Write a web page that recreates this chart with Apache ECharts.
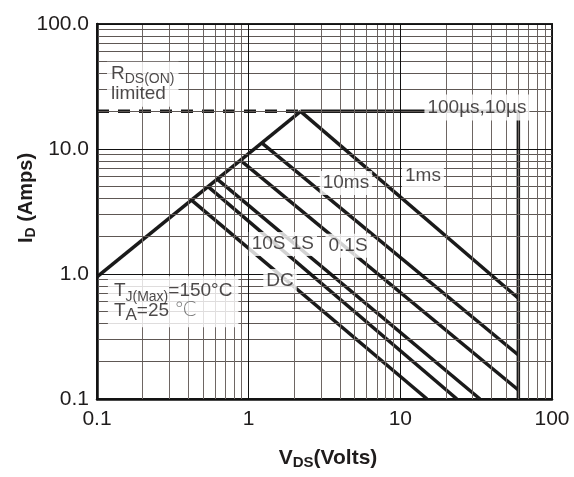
<!DOCTYPE html>
<html><head><meta charset="utf-8">
<script src="https://cdn.jsdelivr.net/npm/echarts@6/dist/echarts.min.js"></script>
<style>html,body{margin:0;padding:0;background:#fff}#c{width:574px;height:477px}</style>
</head><body><div id="c"></div>
<script>
// ---- tick labels ----
const xTickLabels = ['0.1', '1', '10', '100'];
const yTickLabels = ['0.1', '1.0', '10.0', '100.0'];
const decadeStarts = [0.1, 1, 10];
const minorMultipliers = [2, 3, 4, 5, 6, 7, 8, 9];
const majorValues = [0.1, 1, 10, 100];

// ---- boundary curves (V in volts, I in amps) ----
const rdsLimitV = [0.1, 2.2];
const rdsLimitI = [0.95, 20];
const rdsDashedV = [0.1, 2.2];
const rdsDashedI = [20, 20];
const us100V = [2.2, 60, 60];
const us100I = [20, 20, 0.1];
const ms1V = [2.2, 60];
const ms1I = [20, 0.64];
const ms10V = [1.22, 60];
const ms10I = [11.2, 0.225];
const s01V = [0.88, 60];
const s01I = [8.15, 0.118];
const s1V = [0.62, 33.5];
const s1I = [5.75, 0.1];
const s10V = [0.54, 23.6];
const s10I = [5.0, 0.1];
const dcV = [0.42, 15];
const dcI = [3.9, 0.1];

// ---- annotation texts ----
const annotTexts = ['R{sub|DS(ON)}\nlimited', '100µs,10µs', '1ms', '10ms', '10S 1S', '0.1S', 'DC', 'T{sub|J(Max)}=150°C\nT{suba|A}=25 {deg|℃}'];
const annotV = [0.1164, 32, 14.1, 4.38, 1.68, 4.52, 1.61, 0.118];
const annotI = [33, 21.5, 6.1, 5.35, 1.74, 1.68, 0.88, 0.6];
const annotAlign = ['left', 'center', 'center', 'center', 'center', 'center', 'center', 'left'];
const annotPad = [[2, 4, 3, 4], [3, 3, 3, 3], [2, 3, 2, 3], [2, 3, 2, 3], [2, 3, 2, 3], [2, 3, 2, 3], [2, 3, 2, 3], [5, 6, 6, 6]];

const FONT = "'Liberation Sans', Arial, Helvetica, sans-serif";
const TXT = '#1f1c1c';
const pair = (vs, is) => vs.map((v, k) => [v, is[k]]);

const minorValues = [];
decadeStarts.forEach(d => minorMultipliers.forEach(m => minorValues.push(+(d * m).toPrecision(3))));

const gridLines = [];
minorValues.forEach(v => {
  gridLines.push({ xAxis: v, lineStyle: { color: '#6e6663', width: 1, type: 'solid' } });
  gridLines.push({ yAxis: v, lineStyle: { color: '#5e5754', width: 1, type: 'solid' } });
});
majorValues.forEach(v => {
  gridLines.push({ xAxis: v, lineStyle: { color: '#111', width: 1, type: 'solid' } });
  gridLines.push({ yAxis: v, lineStyle: { color: '#111', width: 1, type: 'solid' } });
});

const richStyles = {
  sub: { fontSize: 14, fontFamily: FONT, color: TXT, lineHeight: 14, padding: [11, 0, 0, 0] },
  suba: { fontSize: 17, fontFamily: FONT, color: TXT, lineHeight: 16, padding: [8, 0, 0, 0] },
  deg: { fontSize: 20, fontFamily: "'DejaVu Sans', sans-serif", color: '#555', fontWeight: 'lighter' }
};

const curveStyle = { color: '#1a1a1a', width: 3.5 };
function curve(name, data, extra) {
  return Object.assign({
    name, type: 'line', data, symbol: 'none', lineStyle: curveStyle, z: 3, silent: true, animation: false
  }, extra || {});
}

const annotData = annotTexts.map((t, k) => ({
  value: [annotV[k], annotI[k]],
  label: {
    show: true, formatter: t, position: 'inside', align: annotAlign[k], verticalAlign: 'middle',
    fontSize: 19, fontFamily: FONT, color: TXT, lineHeight: 20,
    backgroundColor: '#fff', padding: annotPad[k], rich: richStyles
  }
}));

const chart = echarts.init(document.getElementById('c'), null, { renderer: 'canvas' });
chart.setOption({
  animation: false,
  backgroundColor: '#fff',
  grid: { left: 97, right: 22, top: 24, bottom: 78, show: true, borderColor: '#222', borderWidth: 2, backgroundColor: 'transparent' },
  xAxis: {
    type: 'log', logBase: 10, min: 0.1, max: 100,
    axisLine: { show: true, lineStyle: { color: '#111', width: 2.5 } },
    axisTick: { show: false }, splitLine: { show: false }, minorSplitLine: { show: false },
    axisLabel: {
      fontSize: 21, fontFamily: FONT, color: TXT, margin: 10,
      formatter: v => xTickLabels[Math.round(Math.log10(v)) + 1]
    }
  },
  yAxis: {
    type: 'log', logBase: 10, min: 0.1, max: 100,
    axisLine: { show: true, lineStyle: { color: '#111', width: 2.5 } },
    axisTick: { show: false }, splitLine: { show: false },
    axisLabel: {
      fontSize: 21, fontFamily: FONT, color: TXT, margin: 8,
      formatter: v => yTickLabels[Math.round(Math.log10(v)) + 1]
    }
  },
  graphic: [
    {
      type: 'text', x: 26, y: 198, rotation: Math.PI / 2,
      style: {
        text: 'I{s|D} (Amps)', fill: TXT, font: 'bold 20px ' + FONT, align: 'center', verticalAlign: 'middle',
        rich: { s: { fontSize: 14, fontWeight: 'bold', fontFamily: FONT, padding: [10, 0, 0, 0], lineHeight: 14 } }
      }
    },
    {
      type: 'text', x: 328, y: 458,
      style: {
        text: 'V{s|DS}(Volts)', fill: TXT, font: 'bold 21px ' + FONT, align: 'center', verticalAlign: 'middle',
        rich: { s: { fontSize: 15, fontWeight: 'bold', fontFamily: FONT, padding: [10, 0, 0, 0], lineHeight: 15 } }
      }
    }
  ],
  series: [
    {
      name: 'grid', type: 'line', data: [[0.1, 0.1]], symbol: 'none', lineStyle: { width: 0 }, z: 1, silent: true,
      markLine: { silent: true, symbol: 'none', label: { show: false }, animation: false, data: gridLines }
    },
    curve('RDS limit', pair(rdsLimitV, rdsLimitI)),
    curve('RDS dashed', pair(rdsDashedV, rdsDashedI), { lineStyle: { color: '#1a1a1a', width: 3.5, type: [12, 9] } }),
    curve('100us,10us', pair(us100V, us100I)),
    curve('1ms', pair(ms1V, ms1I)),
    curve('10ms', pair(ms10V, ms10I)),
    curve('0.1S', pair(s01V, s01I)),
    curve('1S', pair(s1V, s1I)),
    curve('10S', pair(s10V, s10I)),
    curve('DC', pair(dcV, dcI)),
    {
      name: 'labels', type: 'scatter', symbolSize: 0, data: annotData, z: 5, silent: true, animation: false
    }
  ]
});
</script></body></html>
